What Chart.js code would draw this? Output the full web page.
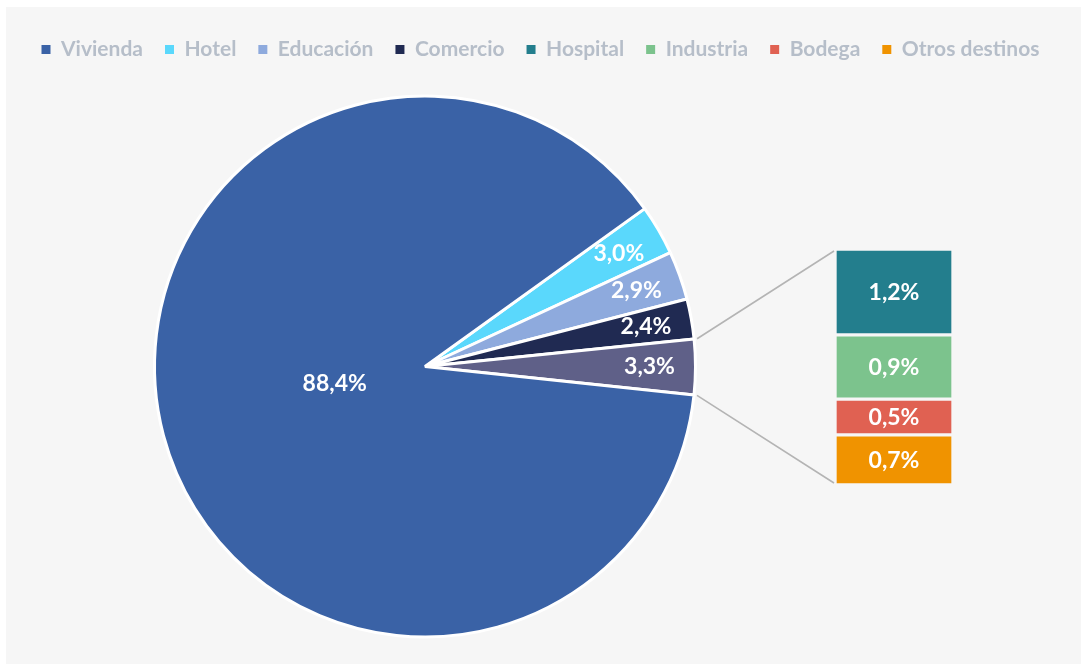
<!DOCTYPE html>
<html>
<head>
<meta charset="utf-8">
<script src="https://cdn.jsdelivr.net/npm/chart.js@4.4.1/dist/chart.umd.min.js"></script>
<style>
  html, body { margin: 0; padding: 0; background: #ffffff; width: 1081px; height: 664px; overflow: hidden; }
  #panel { position: absolute; left: 6px; top: 7px; right: 0; bottom: 0; background: #f6f6f6; }
  #pie { position: absolute; left: 0; top: 0; }
  #bar { position: absolute; left: 835px; top: 249px; }
</style>
</head>
<body>
<div id="panel"></div>
<canvas id="pie" width="1081" height="664"></canvas>
<canvas id="bar" width="118" height="236"></canvas>
<script>
// ---- data ----
const legendLabels = ['Vivienda', 'Hotel', 'Educación', 'Comercio', 'Hospital', 'Industria', 'Bodega', 'Otros destinos'];
const legendColors = ['#3a62a6', '#5ad8fc', '#8eaadd', '#202a52', '#237e8d', '#7cc38d', '#e06152', '#f09300'];

const pieLabels = ['Hotel', 'Educación', 'Comercio', 'Otros', 'Vivienda'];
const pieValues = [3.0, 2.9, 2.4, 3.3, 88.4];
const pieColors = ['#5ad8fc', '#8eaadd', '#202a52', '#5f6088', '#3a62a6'];

const barLabels = ['Hospital', 'Industria', 'Bodega', 'Otros destinos'];
const barValues = [1.2, 0.9, 0.5, 0.7];
const barColors = ['#237e8d', '#7cc38d', '#e06152', '#f09300'];

const FONT = "Lato, 'Open Sans', sans-serif";
const fmt = v => v.toFixed(1).replace('.', ',') + '%';

Chart.defaults.font.family = FONT;

// ---- stacked bar (right) ----
const barChart = new Chart(document.getElementById('bar'), {
  type: 'bar',
  data: {
    labels: ['Otros'],
    datasets: barLabels.map((l, i) => ({
      label: l,
      data: [barValues[i]],
      backgroundColor: barColors[i],
      borderColor: '#f6f6f6',
      borderWidth: 2,
      borderSkipped: false,
      categoryPercentage: 1,
      barPercentage: 1
    }))
  },
  options: {
    responsive: false,
    animation: false,
    layout: { padding: 0 },
    plugins: { legend: { display: false }, tooltip: { enabled: false } },
    scales: {
      x: { stacked: true, display: false },
      y: { stacked: true, display: false, min: 0, max: 3.3, reverse: true }
    }
  },
  plugins: [{
    id: 'barLabels',
    afterDatasetsDraw(chart) {
      const ctx = chart.ctx;
      ctx.save();
      ctx.fillStyle = '#ffffff';
      ctx.font = "bold 23px " + FONT;
      ctx.textAlign = 'center';
      ctx.textBaseline = 'middle';
      chart.data.datasets.forEach((ds, i) => {
        const el = chart.getDatasetMeta(i).data[0];
        ctx.fillText(fmt(ds.data[0]), el.x, (el.y + el.base) / 2 + 1);
      });
      ctx.restore();
    }
  }]
});

// ---- pie (left) ----
const PIE = { cx: 425, cy: 366.5, r: 272 };
new Chart(document.getElementById('pie'), {
  type: 'pie',
  data: {
    labels: pieLabels,
    datasets: [{
      data: pieValues,
      backgroundColor: pieColors,
      borderColor: '#ffffff',
      borderWidth: 3,
      clip: false
    }]
  },
  options: {
    responsive: false,
    animation: false,
    rotation: 54.3,
    layout: { padding: { top: 17 } },
    plugins: {
      tooltip: { enabled: false },
      legend: {
        position: 'top',
        align: 'center',
        labels: {
          boxWidth: 9,
          boxHeight: 9,
          padding: 22,
          color: '#b6bec9',
          font: { family: FONT, size: 21, weight: 'bold' },
          generateLabels: () => legendLabels.map((t, i) => ({
            text: t, fillStyle: legendColors[i], strokeStyle: legendColors[i],
            lineWidth: 0, hidden: false, index: i, fontColor: '#b6bec9'
          }))
        }
      }
    }
  },
  plugins: [{
    id: 'placePie',
    afterLayout(chart) {
      chart.chartArea = {
        left: PIE.cx - PIE.r, right: PIE.cx + PIE.r,
        top: PIE.cy - PIE.r, bottom: PIE.cy + PIE.r,
        width: 2 * PIE.r, height: 2 * PIE.r
      };
    }
  }, {
    id: 'pieExtras',
    afterDatasetsDraw(chart) {
      const ctx = chart.ctx;
      const arcs = chart.getDatasetMeta(0).data;
      // connector lines from the grouped slice to the stacked bar
      const grp = arcs[3];
      const rr = grp.outerRadius + 3;
      const bx = 835 + barChart.chartArea.left - 1;
      const yTop = 249 + barChart.scales.y.getPixelForValue(0) + 2;
      const yBot = 249 + barChart.scales.y.getPixelForValue(3.3) - 2;
      ctx.save();
      ctx.strokeStyle = '#b4b4b4';
      ctx.lineWidth = 1.6;
      ctx.beginPath();
      ctx.moveTo(grp.x + rr * Math.cos(grp.startAngle), grp.y + rr * Math.sin(grp.startAngle));
      ctx.lineTo(bx, yTop);
      ctx.moveTo(grp.x + rr * Math.cos(grp.endAngle), grp.y + rr * Math.sin(grp.endAngle));
      ctx.lineTo(bx, yBot);
      ctx.stroke();
      // value labels
      ctx.fillStyle = '#ffffff';
      ctx.font = "bold 23px " + FONT;
      ctx.textAlign = 'center';
      ctx.textBaseline = 'middle';
      arcs.forEach((a, i) => {
        const mid = (a.startAngle + a.endAngle) / 2;
        const big = pieValues[i] > 50;
        const k = big ? 0.33 : 0.83;
        const x = a.x + k * a.outerRadius * Math.cos(mid) - (big ? 4 : 0);
        const y = a.y + k * a.outerRadius * Math.sin(mid) - (big ? 6 : 0);
        ctx.fillText(fmt(pieValues[i]), x, y);
      });
      ctx.restore();
    }
  }]
});
</script>
</body>
</html>
